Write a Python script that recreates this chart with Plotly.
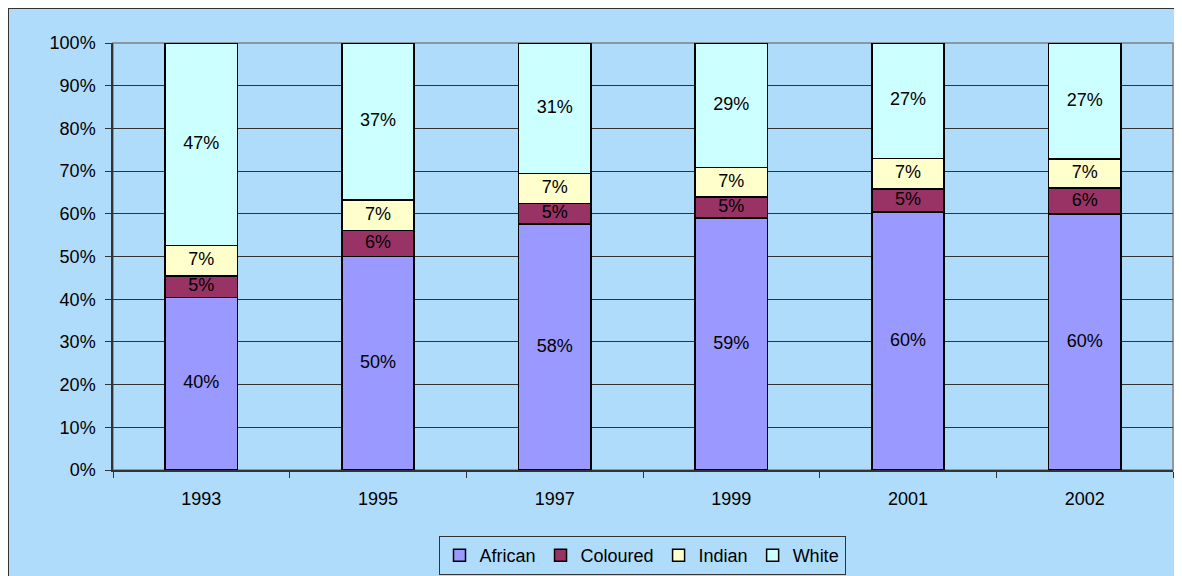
import plotly.graph_objects as go

years = ["1993", "1995", "1997", "1999", "2001", "2002"]
african = [40.4, 50.0, 57.6, 59.0, 60.4, 59.9]
coloured = [5.0, 6.1, 4.8, 4.9, 5.4, 6.1]
indian = [7.2, 7.1, 7.0, 7.0, 7.2, 6.8]
white = [47.4, 36.8, 30.6, 29.1, 27.0, 27.2]
y_ticks = list(range(0, 101, 10))
y_ticktext = [f"{v}%" for v in y_ticks]

series = [
    ("African", african, "#9999ff"),
    ("Coloured", coloured, "#993366"),
    ("Indian", indian, "#ffffcc"),
    ("White", white, "#ccffff"),
]

OFF = 8  # browser body margin
W, H = 1190, 590
ML, MT = 113 - OFF, 43 - OFF
MR = W - (1173 - OFF)
MB = H - (470 - OFF)
PW, PH = W - ML - MR, H - MT - MB
BG = "#b0dcfc"
DARK = "#333333"
FONT = "Liberation Sans, Arial, sans-serif"
FS = 18

fig = go.Figure()
base = [0.0] * len(years)
for name, vals, color in series:
    fig.add_trace(go.Bar(
        x=years, y=vals, name=name,
        marker=dict(color=color, line=dict(color="#000000", width=1.5)),
        textposition="none", hoverinfo="skip",
    ))
    mids = [b + v / 2 for b, v in zip(base, vals)]
    fig.add_trace(go.Scatter(
        x=years, y=mids, mode="text",
        text=[f"{v:.0f}%" for v in vals],
        textfont=dict(family=FONT, size=FS, color="#000000"),
        showlegend=False, hoverinfo="skip",
    ))
    base = [b + v for b, v in zip(base, vals)]

# helpers: absolute screenshot pixel -> paper coords
def px_x(p):
    return (p - OFF - ML) / PW

def px_y(p):
    return (H - MB - (p - OFF)) / PH

shapes = [
    # chart border (dark) on top/left edges
    dict(type="rect", xref="paper", yref="paper",
         x0=px_x(8), x1=px_x(1300), y0=px_y(700), y1=px_y(8),
         line=dict(color=DARK, width=2), layer="below"),
    # plot area border (gray)
    dict(type="rect", xref="paper", yref="paper",
         x0=0, x1=1, y0=0, y1=1,
         line=dict(color="#808080", width=1.5), layer="below"),
]

fig.update_layout(
    width=W, height=H,
    margin=dict(l=ML, r=MR, t=MT, b=MB, autoexpand=False),
    paper_bgcolor=BG,
    plot_bgcolor="rgba(0,0,0,0)",
    barmode="stack",
    bargap=0.59,
    font=dict(family=FONT, size=FS, color="#000000"),
    shapes=shapes,
    showlegend=True,
    legend=dict(
        orientation="h", x=px_x(642), xanchor="center",
        y=px_y(536), yanchor="top",
        bgcolor="rgba(0,0,0,0)", bordercolor=DARK, borderwidth=1,
        font=dict(family=FONT, size=FS, color="#000000"),
        traceorder="normal", itemwidth=30,
    ),
    xaxis=dict(
        type="category", tickson="boundaries", ticks="outside", ticklen=6,
        tickcolor=DARK, showline=True, linecolor=DARK, linewidth=1.5,
        showgrid=False, ticklabelstandoff=12,
        tickfont=dict(family=FONT, size=FS, color="#000000"),
    ),
    yaxis=dict(
        range=[0, 100], tickmode="array",
        tickvals=y_ticks, ticktext=y_ticktext,
        ticks="outside", ticklen=6, tickcolor=DARK,
        showline=True, linecolor=DARK, linewidth=1.5,
        showgrid=False, zeroline=False,
        minor=dict(tickmode="array", tickvals=y_ticks[1:-1],
                   showgrid=True, gridcolor=DARK, gridwidth=1, ticks=""),
        ticklabelstandoff=6,
        tickfont=dict(family=FONT, size=FS, color="#000000"),
    ),
)

fig.write_html(
    "out.html",
    post_script="document.documentElement.style.overflow='hidden';document.body.style.overflow='hidden';",
)
